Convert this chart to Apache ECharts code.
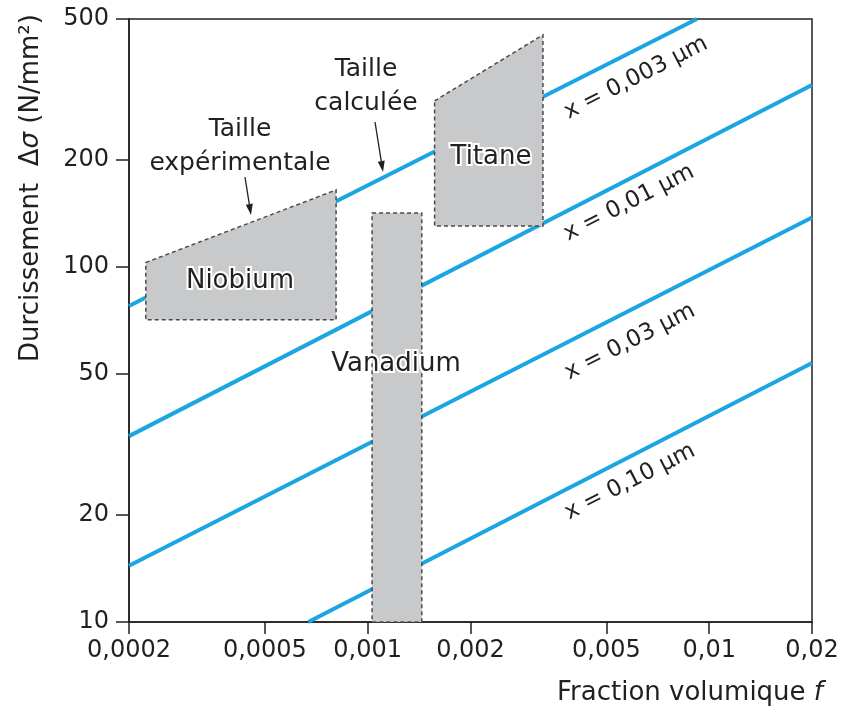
<!DOCTYPE html>
<html><head><meta charset="utf-8">
<script src="https://cdn.jsdelivr.net/npm/echarts@6/dist/echarts.min.js"></script>
<style>html,body{margin:0;padding:0;background:#fff}#c{width:842px;height:711px}</style>
</head><body><div id="c"></div>
<script>
// ---- data ----
const xTicks = [0.0002, 0.0005, 0.001, 0.002, 0.005, 0.01, 0.02];
const xTickLabels = ['0,0002', '0,0005', '0,001', '0,002', '0,005', '0,01', '0,02'];
const yTicks = [10, 20, 50, 100, 200, 500];
const yTickLabels = ['10', '20', '50', '100', '200', '500'];

const lineNames = ['x = 0,003 µm', 'x = 0,01 µm', 'x = 0,03 µm', 'x = 0,10 µm'];
const lineF = [[0.0002, 0.0092], [0.0002, 0.02], [0.0002, 0.02], [0.00067, 0.02]];
const lineSigma = [[77.7, 500], [33.4, 326], [14.4, 138], [10, 53.7]];

const regionNames = ['Niobium', 'Titane', 'Vanadium'];
const niobiumF = [0.000224, 0.000808, 0.000808, 0.000224];
const niobiumSigma = [103, 165, 71, 71];
const titaneF = [0.00157, 0.00326, 0.00326, 0.00157];
const titaneSigma = [294, 451, 130.5, 130.5];
const vanadiumF = [0.00103, 0.00144, 0.00144, 0.00103];
const vanadiumSigma = [142, 142, 10, 10];

// ---- chart ----
const FONT = 'DejaVu Sans';
const INK = '#231f20';
const BLUE = '#1ba6e1';
const L = Math.log10;

function tickLabel(ticks, labels) {
  return function (v) {
    for (let i = 0; i < ticks.length; i++) if (Math.abs(L(ticks[i]) - v) < 1e-6) return labels[i];
    return '';
  };
}

const lineSeries = lineF.map((fs, i) => ({
  type: 'line', name: lineNames[i], z: 2, silent: true, symbol: 'none',
  lineStyle: { color: BLUE, width: 4 },
  data: fs.map((f, j) => [L(f), L(lineSigma[i][j])])
}));

const regions = [[niobiumF, niobiumSigma], [titaneF, titaneSigma], [vanadiumF, vanadiumSigma]];
const regionSeries = regions.map((r, k) => ({
  type: 'custom', name: regionNames[k], z: 5, silent: true,
  data: r[0].map((f, j) => [L(f), L(r[1][j])]),
  renderItem: function (params, api) {
    if (params.dataIndex !== 0) return null;
    const pts = r[0].map((f, j) => api.coord([L(f), L(r[1][j])]));
    return {
      type: 'polygon',
      shape: { points: pts },
      style: { fill: '#c8c9cb', stroke: '#4a4a4c', lineWidth: 1.5, lineDash: [4, 3] }
    };
  }
}));

function txt(x, y, text, size, extra) {
  return {
    type: 'text', x: x, y: y, z: 100,
    style: Object.assign({ text: text, fontSize: size, fontFamily: FONT, fill: INK, align: 'center', verticalAlign: 'middle' }, extra || {})
  };
}
function arrow(x1, y1, x2, y2) {
  const a = Math.atan2(y2 - y1, x2 - x1), len = 11, w = 3.5;
  const bx = x2 - len * Math.cos(a), by = y2 - len * Math.sin(a);
  return [
    { type: 'line', z: 100, shape: { x1: x1, y1: y1, x2: bx, y2: by }, style: { stroke: INK, lineWidth: 1.3 } },
    { type: 'polygon', z: 100, shape: { points: [[x2, y2], [bx - w * Math.sin(a), by + w * Math.cos(a)], [bx + w * Math.sin(a), by - w * Math.cos(a)]] }, style: { fill: INK } }
  ];
}

const rot = 27 * Math.PI / 180;
const halo = { stroke: '#fff', lineWidth: 4, strokeFirst: true };

const graphics = [
  // axis titles
  { type: 'text', x: 31, y: 188, rotation: Math.PI / 2, z: 100,
    style: { text: '{a|Durcissement  Δ}{i|σ}{a| (N/mm²)}', align: 'center', verticalAlign: 'middle',
      rich: { a: { fontSize: 26, fontFamily: FONT, fill: INK }, i: { fontSize: 26, fontFamily: FONT, fill: INK, fontStyle: 'italic' } } } },
  { type: 'text', x: 823, y: 693, z: 100,
    style: { text: '{a|Fraction volumique }{i|f}', align: 'right', verticalAlign: 'middle',
      rich: { a: { fontSize: 26, fontFamily: FONT, fill: INK }, i: { fontSize: 26, fontFamily: FONT, fill: INK, fontStyle: 'italic' } } } },
  // annotations
  txt(240, 129, 'Taille', 25),
  txt(240, 163, 'expérimentale', 25),
  txt(366, 69, 'Taille', 25),
  txt(366, 103, 'calculée', 25),
  ...arrow(245, 177, 251, 215),
  ...arrow(375, 122, 383, 172),
  // region labels
  txt(240, 281, regionNames[0], 26, halo),
  txt(491, 157, regionNames[1], 26, halo),
  txt(396, 364, regionNames[2], 26, halo),
  // line labels
  Object.assign(txt(636, 78, lineNames[0], 23), { rotation: rot }),
  Object.assign(txt(629, 203, lineNames[1], 23), { rotation: rot }),
  Object.assign(txt(630, 342, lineNames[2], 23), { rotation: rot }),
  Object.assign(txt(630, 482, lineNames[3], 23), { rotation: rot })
];

const axisCommon = {
  type: 'value',
  splitLine: { show: false },
  axisLine: { show: true, lineStyle: { color: INK, width: 1.5 } }
};

const chart = echarts.init(document.getElementById('c'), null, { renderer: 'canvas' });
chart.setOption({
  animation: false,
  backgroundColor: '#fff',
  grid: { left: 129, right: 30, top: 19, bottom: 89, show: true, borderColor: INK, borderWidth: 1.5, backgroundColor: 'transparent' },
  xAxis: Object.assign({}, axisCommon, {
    min: L(xTicks[0]), max: L(xTicks[xTicks.length - 1]),
    axisTick: { show: true, length: 12, customValues: xTicks.map(L), lineStyle: { color: INK, width: 1.5 } },
    axisLabel: { show: true, customValues: xTicks.map(L), formatter: tickLabel(xTicks, xTickLabels), fontSize: 24, fontFamily: FONT, color: INK, margin: 17, hideOverlap: false }
  }),
  yAxis: Object.assign({}, axisCommon, {
    min: L(yTicks[0]), max: L(yTicks[yTicks.length - 1]),
    axisTick: { show: true, length: 13, customValues: yTicks.map(L), lineStyle: { color: INK, width: 1.5 } },
    axisLabel: { show: true, customValues: yTicks.map(L), formatter: tickLabel(yTicks, yTickLabels), fontSize: 24, fontFamily: FONT, color: INK, margin: 20, hideOverlap: false }
  }),
  series: lineSeries.concat(regionSeries),
  graphic: graphics
});
</script>
</body></html>
